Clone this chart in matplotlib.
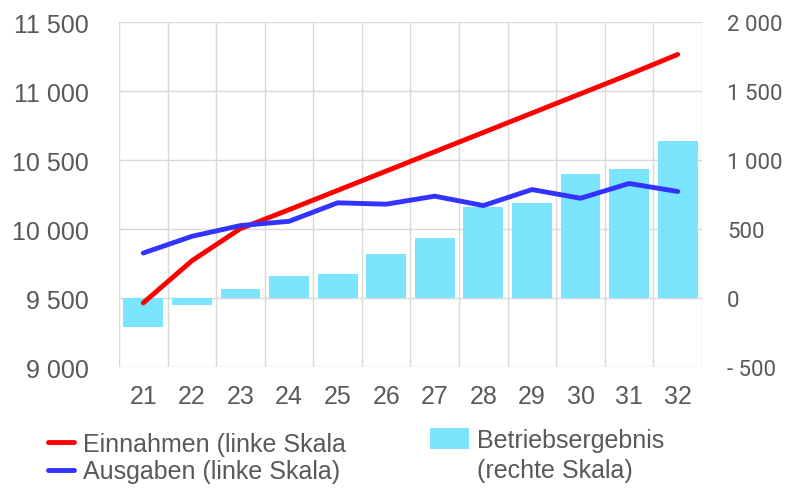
import matplotlib.pyplot as plt
import numpy as np
from matplotlib.ticker import FuncFormatter

# Daten
jahre = ["21", "22", "23", "24", "25", "26", "27", "28", "29", "30", "31", "32"]
einnahmen = [9465, 9770, 10003, 10140, 10280, 10420, 10560, 10700, 10840, 10980, 11120, 11265]
ausgaben = [9826, 9947, 10025, 10056, 10190, 10180, 10238, 10170, 10286, 10223, 10330, 10272]
betriebsergebnis = [-213, -50, 65, 162, 174, 320, 436, 657, 686, 901, 937, 1140]

plt.rcParams['font.family'] = ['Liberation Sans', 'DejaVu Sans']
grau = '#595959'
fs = 18

fig = plt.figure(figsize=(7.86, 4.89), dpi=100)
ax2 = fig.add_axes([0.1514, 0.2474, 0.7417, 0.7055])  # rechte Skala (Balken)
ax = ax2.twinx()  # linke Skala (Linien), liegt oben
ax.yaxis.tick_left()
ax2.yaxis.tick_right()

x = np.arange(len(jahre))

# Balken
bars = ax2.bar(x, betriebsergebnis, width=0.82, color='#7ae5fd', zorder=2,
               label='Betriebsergebnis')

# Linien
l1, = ax.plot(x, einnahmen, color='#ff0000', linewidth=3.5, solid_capstyle='round',
              label='Einnahmen (linke Skala')
l2, = ax.plot(x, ausgaben, color='#3333ff', linewidth=3.5, solid_capstyle='round',
              label='Ausgaben (linke Skala)')

ax.set_ylim(9000, 11500)
ax2.set_ylim(-500, 2000)
ax.set_xlim(-0.5, 11.5)
ax2.set_xlim(-0.5, 11.5)

fmt = lambda v, p: f"{int(v):,}".replace(",", " ").replace("-", "- ")
ax.yaxis.set_major_formatter(FuncFormatter(fmt))
ax2.yaxis.set_major_formatter(FuncFormatter(fmt))
ax.set_yticks(np.arange(9000, 11501, 500))
ax2.set_yticks(np.arange(-500, 2001, 500))

ax2.set_xticks(x)
ax2.set_xticklabels(jahre)
ax2.set_xticks(np.arange(-0.5, 12, 1), minor=True)

# Gitter hinter den Balken
ax2.set_axisbelow(True)
ax2.grid(axis='y', which='major', color='#d9d9d9', linewidth=1)
ax2.grid(axis='x', which='minor', color='#d9d9d9', linewidth=1)
ax2.grid(axis='x', which='major', visible=False)

for a in (ax, ax2):
    for s in a.spines.values():
        s.set_visible(False)

ax.tick_params(axis='y', length=0, pad=21.5, labelsize=fs, labelcolor=grau)
ax.tick_params(axis='x', bottom=False, labelbottom=False)
# rechte Skala in schmalerer Schrift
ax2.tick_params(axis='y', length=0, pad=18, labelsize=16, labelcolor=grau)
for lbl in ax2.get_yticklabels():
    lbl.set_family('Roboto')
ax2.tick_params(axis='x', which='both', length=0, pad=12, labelsize=fs, labelcolor=grau)

# Legenden
fig.legend(handles=[l1, l2], loc='upper left', bbox_to_anchor=(48 / 786, 0.1145),
           frameon=False, fontsize=fs, labelcolor=grau, handlelength=1.04,
           handletextpad=0.36, labelspacing=0.13, borderaxespad=0, borderpad=0)
fig.legend(handles=[bars], loc='upper left', bbox_to_anchor=(430 / 786, 0.1227),
           frameon=False, fontsize=fs, labelcolor=grau, handlelength=1.56,
           handleheight=0.92, handletextpad=0.32, borderaxespad=0, borderpad=0)
fig.text(477 / 786, 1 - 478 / 489, '(rechte Skala)', fontsize=fs, color=grau,
         ha='left', va='baseline')

fig.savefig('out.png', dpi=100)
